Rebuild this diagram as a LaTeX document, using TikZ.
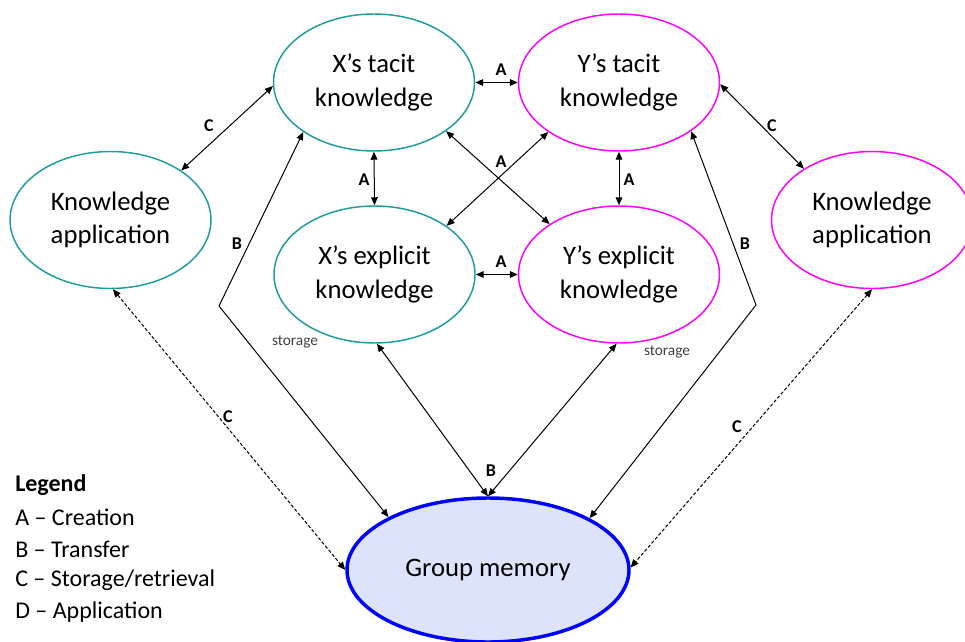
\documentclass[tikz,border=0pt]{standalone}
\usepackage{fontspec}
\setmainfont{Carlito}
\usetikzlibrary{shapes.geometric,arrows.meta}

\begin{document}
\begin{tikzpicture}[x=0.75pt,y=-0.75pt,
  knode/.style={ellipse, draw, line width=1.1pt, minimum width=150.75pt, minimum height=102.75pt,
    inner sep=0pt, align=center, font=\fontsize{20}{25}\selectfont},
  xnode/.style={knode, draw=x edge},
  ynode/.style={knode, draw=y edge},
  link/.style={{Triangle[length=6pt,width=5pt]}-{Triangle[length=6pt,width=5pt]}, line width=0.75pt},
  recall/.style={link, dash pattern=on 2.5pt off 1.5pt},
  tag/.style={font=\fontsize{13.5}{15}\selectfont\bfseries},
  note/.style={font=\fontsize{11.5}{13}\selectfont, text=black!75},
  legendline/.style={anchor=west, inner sep=0pt, font=\fontsize{18}{22}\selectfont}]
\definecolor{x edge}{RGB}{30,155,155}
\definecolor{y edge}{RGB}{255,0,255}
\definecolor{memory edge}{RGB}{0,0,255}
\definecolor{memory area}{RGB}{220,227,251}

\useasboundingbox (0,0) rectangle (965,642);

% knowledge nodes
\node[xnode] (xt) at (374,82.5) {X’s tacit\\knowledge};
\node[ynode] (yt) at (619,82.5) {Y’s tacit\\knowledge};
\node[xnode] (xe) at (374.5,274.5) {X’s explicit\\knowledge};
\node[ynode] (ye) at (619,274.5) {Y’s explicit\\knowledge};
\node[xnode] (xa) at (110.5,220) {Knowledge\\application};
\node[ynode] (ya) at (872,220) {Knowledge\\application};
\node[knode, draw=memory edge, fill=memory area, line width=2.6pt,
  minimum width=211.5pt, minimum height=108pt] (gm) at (488,570) {Group memory};

% creation
\draw[link] (xt.east) -- (yt.west);
\draw[link] (xe.east) -- (ye.west);
\draw[link] (xt.south) -- (xe.north);
\draw[link] (yt.south) -- (ye.north);
\draw[link] (xt.-34.5) -- (ye.144.7);
\draw[link] (yt.215.3) -- (xe.34.3);

% storage / retrieval with application
\draw[link] (xa.35.5) -- (xt.182);
\draw[link] (yt.-1) -- (ya.143.7);
\draw[recall] (xa.272) -- (gm.west);
\draw[recall] (ya.270) -- (gm.1);

% transfer
\coordinate (bl) at (219,306);
\coordinate (br) at (756,305);
\draw[link] (xt.215) -- (bl) -- (gm.152.3);
\draw[link] (yt.-34.8) -- (br) -- (gm.27.9);
\draw[link] (xe.272) -- (gm.north);
\draw[link] (ye.268) -- (gm.north);

\foreach \n/\x/\y/\t in {a1/501/70/A, a2/501/262/A, a3/364/180/A, a4/629/180/A, a5/501/162/A,
    c1/209/126/C, c2/772/126/C, c3/228/417/C, c4/737/427/C,
    b1/237/244/B, b2/745/244/B, b3/491/471/B}
  \node[tag] (\n) at (\x,\y) {\t};

\node[note] (sl) at (295,342) {storage};
\node[note] (sr) at (667,352) {storage};

% legend
\node[legendline, font=\fontsize{18}{22}\selectfont\bfseries] (lg) at (15,485) {Legend};
\foreach \n/\y/\t in {la/517/{A -- Creation}, lb/549/{B -- Transfer},
    lc/580/{C -- Storage/retrieval}, ld/612/{D -- Application}}
  \node[legendline] (\n) at (15,\y) {\t};
\end{tikzpicture}
\end{document}
